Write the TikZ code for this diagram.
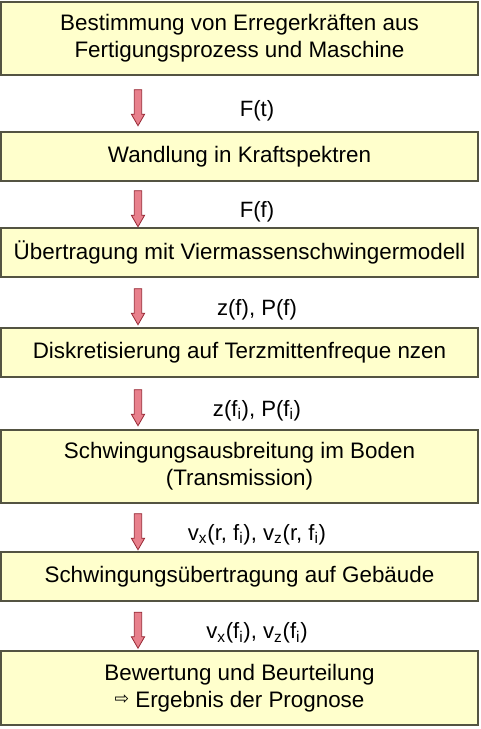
\documentclass[tikz,border=0pt]{standalone}
\usepackage{fontspec}
\setmainfont{Liberation Sans}
\newfontfamily\symfont{DejaVu Sans}
\usetikzlibrary{shapes.arrows,calc}
\definecolor{boxfill}{RGB}{255,255,204}
\definecolor{boxline}{RGB}{84,84,66}
\definecolor{arrfill}{RGB}{232,128,140}
\definecolor{arrline}{RGB}{150,40,52}

\begin{document}
\begin{tikzpicture}[x=0.75pt,y=-0.75pt,
  box/.style={draw=boxline, line width=1.3pt, fill=boxfill, minimum width=357.75pt,
    inner sep=0pt, align=center, font=\fontsize{16.8}{20.5}\selectfont},
  flow/.style={single arrow, shape border rotate=270, draw=arrline, fill=arrfill,
    line width=0.6pt, minimum height=27pt, inner sep=2.5pt,
    single arrow head extend=2.2pt, single arrow tip angle=60},
  lbl/.style={font=\fontsize{16.6}{18}\selectfont}]
\useasboundingbox (0,0) rectangle (480,729);
% process steps
\node[box, minimum height=54.75pt] (b1) at (239.5,38.5)
  {Bestimmung von Erregerkräften aus\\Fertigungsprozess und Maschine};
\node[box, minimum height=36.75pt] (b2) at (239.5,156.5) {Wandlung in Kraftspektren};
\node[box, minimum height=36.75pt] (b3) at (239.5,252.5) {Übertragung mit Viermassenschwingermodell};
\node[box, minimum height=36.75pt] (b4) at (239.5,352.5) {Diskretisierung auf Terzmittenfreque nzen};
\node[box, minimum height=54.75pt] (b5) at (239.5,466.5)
  {Schwingungsausbreitung im Boden\\(Transmission)};
\node[box, minimum height=36.75pt] (b6) at (239.5,576.5) {Schwingungsübertragung auf Gebäude};
\node[box, minimum height=55.5pt] (b7) at (239.5,688)
  {Bewertung und Beurteilung\\{\symfont\fontsize{13}{14}\selectfont\raisebox{2pt}{⇨}} Ergebnis der Prognose};
% arrows and transferred quantities
\foreach \u/\v/\t [count=\i] in {b1/b2/{F(t)}, b2/b3/{F(f)}, b3/b4/{z(f), P(f)},
    b4/b5/{z(f\textsubscript{i}), P(f\textsubscript{i})},
    b5/b6/{v\textsubscript{x}(r, f\textsubscript{i}), v\textsubscript{z}(r, f\textsubscript{i})},
    b6/b7/{v\textsubscript{x}(f\textsubscript{i}), v\textsubscript{z}(f\textsubscript{i})}}
  \path ($(\u.south)!.5!(\v.north)$) ++(-101.5,1) node[flow] (a\i) {}
    ++(119,6) node[lbl] (l\i) {\t};
\end{tikzpicture}
\end{document}
